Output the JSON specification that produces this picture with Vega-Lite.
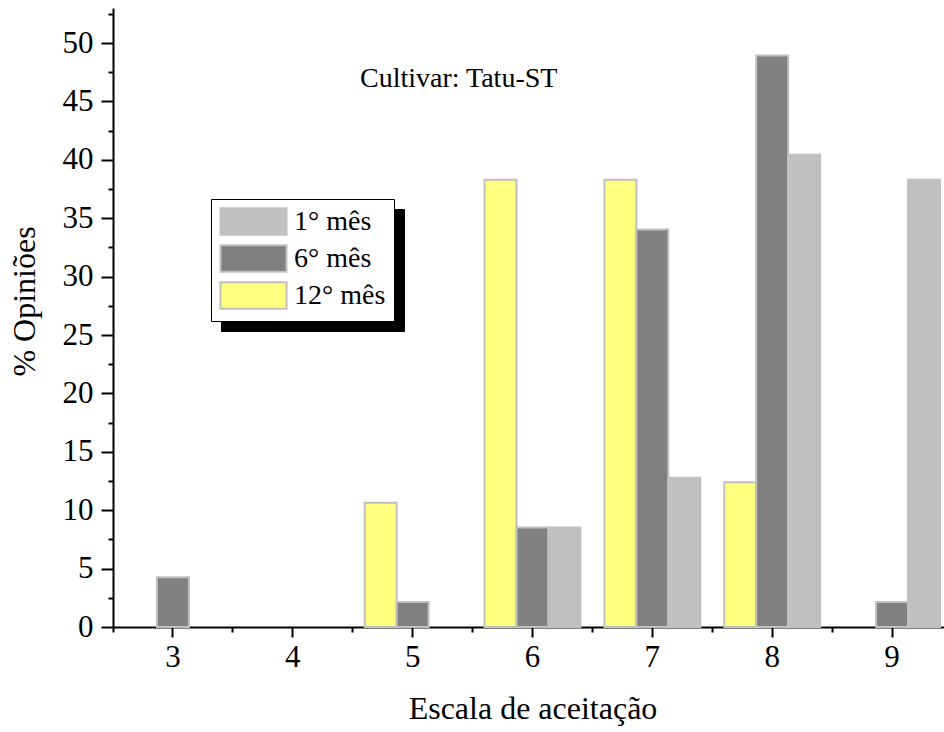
{
  "$schema": "https://vega.github.io/schema/vega-lite/v6.json",
  "width": 831,
  "height": 619,
  "autosize": {"type": "none"},
  "padding": {"left": 113, "top": 8, "right": 0, "bottom": 105},
  "background": "white",
  "config": {
    "view": {"stroke": null},
    "font": "Liberation Serif",
    "axis": {
      "domainColor": "black",
      "domainWidth": 2,
      "tickColor": "black",
      "tickWidth": 2,
      "labelFont": "Liberation Serif",
      "labelColor": "black",
      "titleFont": "Liberation Serif",
      "titleColor": "black",
      "titleFontWeight": "normal",
      "grid": false
    }
  },
  "title": {
    "text": "Cultivar: Tatu-ST",
    "frame": "group",
    "anchor": "start",
    "orient": "top",
    "offset": 0,
    "dx": 247,
    "dy": 107,
    "baseline": "alphabetic",
    "font": "Liberation Serif",
    "fontSize": 28,
    "fontWeight": "normal",
    "color": "black"
  },
  "data": {
    "values": [
      {"escala": 3, "serie": "6° mês", "pct": 4.26},
      {"escala": 5, "serie": "12° mês", "pct": 10.64},
      {"escala": 5, "serie": "6° mês", "pct": 2.13},
      {"escala": 6, "serie": "12° mês", "pct": 38.3},
      {"escala": 6, "serie": "6° mês", "pct": 8.51},
      {"escala": 6, "serie": "1° mês", "pct": 8.51},
      {"escala": 7, "serie": "12° mês", "pct": 38.3},
      {"escala": 7, "serie": "6° mês", "pct": 34.04},
      {"escala": 7, "serie": "1° mês", "pct": 12.77},
      {"escala": 8, "serie": "12° mês", "pct": 12.4},
      {"escala": 8, "serie": "6° mês", "pct": 48.94},
      {"escala": 8, "serie": "1° mês", "pct": 40.43},
      {"escala": 9, "serie": "6° mês", "pct": 2.13},
      {"escala": 9, "serie": "1° mês", "pct": 38.3}
    ]
  },
  "layer": [
    {
      "mark": {"type": "bar", "stroke": "#c0c0c0", "strokeWidth": 2},
      "encoding": {
        "x": {
          "field": "escala",
          "type": "ordinal",
          "scale": {"domain": [3, 4, 5, 6, 7, 8, 9], "range": [0, 839], "paddingInner": 0, "paddingOuter": 0},
          "axis": {
            "title": "Escala de aceitação",
            "labelAngle": 0,
            "labelFontSize": 31,
            "tickSize": 10,
            "labelPadding": 5,
            "titleFontSize": 32,
            "titleY": 91,
            "titleBaseline": "alphabetic"
          }
        },
        "xOffset": {
          "field": "serie",
          "type": "nominal",
          "scale": {"domain": ["12° mês", "6° mês", "1° mês"], "paddingInner": 0, "paddingOuter": 0.375}
        },
        "y": {
          "field": "pct",
          "type": "quantitative",
          "scale": {"domain": [0, 53], "nice": false},
          "axis": {
            "title": "% Opiniões",
            "values": [0, 5, 10, 15, 20, 25, 30, 35, 40, 45, 50],
            "tickSize": 12,
            "labelFontSize": 31,
            "labelPadding": 8,
            "titleFontSize": 32,
            "titleX": -89,
            "titleY": 293,
            "titleBaseline": "middle",
            "titleAlign": "center",
            "titleAngle": 270
          }
        },
        "fill": {
          "field": "serie",
          "type": "nominal",
          "scale": {"domain": ["1° mês", "6° mês", "12° mês"], "range": ["#c0c0c0", "#808080", "#ffff80"]},
          "legend": {
            "title": null,
            "orient": "none",
            "legendX": 98,
            "legendY": 191,
            "fillColor": "white",
            "strokeColor": "black",
            "padding": 8,
            "symbolType": "M-2.5,-1H2.5V1H-2.5Z",
            "symbolSize": 697,
            "symbolOffset": 20,
            "symbolStrokeColor": "#c0c0c0",
            "symbolStrokeWidth": 2,
            "symbolOpacity": 1,
            "labelFont": "Liberation Serif",
            "labelFontSize": 28,
            "labelColor": "black",
            "labelOffset": 26,
            "rowPadding": 2,
            "zindex": 2
          }
        }
      }
    },
    {
      "mark": {"type": "point", "opacity": 0},
      "encoding": {
        "x": {
          "field": "escala",
          "type": "ordinal",
          "axis": {
            "orient": "bottom",
            "bandPosition": 0,
            "tickSize": 5,
            "labels": false,
            "domain": false,
            "title": null
          }
        },
        "y": {
          "field": "pct",
          "type": "quantitative",
          "axis": {
            "orient": "left",
            "values": [2.5, 7.5, 12.5, 17.5, 22.5, 27.5, 32.5, 37.5, 42.5, 47.5, 52.5],
            "tickSize": 5,
            "labels": false,
            "domain": false,
            "title": null
          }
        },
        "shape": {
          "field": "serie",
          "type": "nominal",
          "sort": ["1° mês", "6° mês", "12° mês"],
          "scale": {"range": ["M-2.5,-1H2.5V1H-2.5Z", "M-2.5,-1H2.5V1H-2.5Z", "M-2.5,-1H2.5V1H-2.5Z"]},
          "legend": {
            "title": null,
            "orient": "none",
            "legendX": 108,
            "legendY": 201,
            "fillColor": "black",
            "strokeColor": "black",
            "padding": 8,
            "symbolSize": 697,
            "symbolOffset": 20,
            "symbolFillColor": "black",
            "symbolStrokeColor": "black",
            "symbolStrokeWidth": 2,
            "labelFont": "Liberation Serif",
            "labelFontSize": 28,
            "labelColor": "black",
            "labelOpacity": 0,
            "labelOffset": 26,
            "rowPadding": 2,
            "zindex": 1
          }
        }
      }
    }
  ],
  "resolve": {"axis": {"x": "independent", "y": "independent"}}
}
